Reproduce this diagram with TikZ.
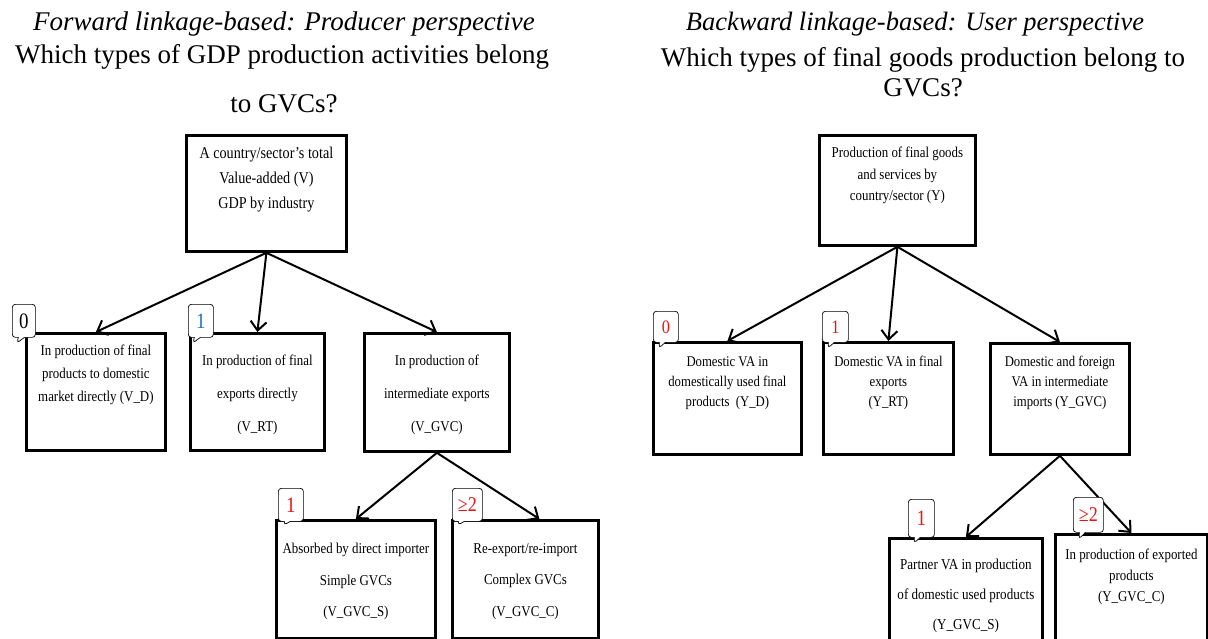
\documentclass[tikz,border=0pt]{standalone}
\usepackage{fontspec}
\setmainfont{Liberation Serif}
\newfontfamily\narrowfont[FakeStretch=0.86]{Liberation Serif}
\usetikzlibrary{positioning,shapes.callouts,arrows.meta}
\definecolor{badgered}{RGB}{235,20,20}
\definecolor{badgeblue}{RGB}{30,115,200}
\tikzset{
  box/.style={draw, line width=2.8pt, anchor=north west, inner sep=0pt},
  boxtext/.style 2 args={anchor=north, align=center, inner sep=0pt,
    font=\narrowfont\fontsize{#1}{#2}\selectfont},
  badge/.style={rectangle callout, draw, fill=white, line width=0.7pt,
    rounded corners=3pt, anchor=north west, minimum width=25pt,
    minimum height=33pt, inner sep=0pt, callout pointer width=6pt,
    text depth=-3pt, font=\narrowfont\fontsize{22}{22}\selectfont},
  link/.style={->, line width=2pt},
}
\begin{document}
\begin{tikzpicture}[x=1pt,y=-1pt,>={Straight Barb[length=9pt,width=16pt,line width=2pt]}]
\clip (0,0) rectangle (1208,639);
% titles
\node[font=\itshape\fontsize{27}{27}\selectfont] (Ltitle) at (284,24) {Forward linkage-based: Producer perspective};
\node[font=\fontsize{27}{27}\selectfont] (Lq) at (282,57) {Which types of GDP production activities belong};
\node[font=\fontsize{27}{27}\selectfont] (Lq2) at (284,104) {to GVCs?};
\node[font=\itshape\fontsize{26.5}{26.5}\selectfont] (Rtitle) at (915,24) {Backward linkage-based: User perspective};
\node[font=\fontsize{27}{30}\selectfont, align=center] (Rq) at (923,72) {Which types of final goods production belong to\\GVCs?};

% forward linkage boxes
\node[box, minimum width=160pt, minimum height=116pt] (Lroot) at (185,134) {};
\node[box, minimum width=139pt, minimum height=117pt] (L0) at (25,332) {};
\node[box, minimum width=134pt, minimum height=117pt] (L1) at (189,332) {};
\node[box, minimum width=145pt, minimum height=118pt] (L2) at (363,332) {};
\node[box, minimum width=159pt, minimum height=118pt] (L3) at (275,519) {};
\node[box, minimum width=146pt, minimum height=118pt] (L4) at (451,519) {};

\node[boxtext={16.5}{25}, below=13pt of Lroot.north] (LrootTxt) {A country/sector’s total\\Value-added (V)\\GDP by industry};
\node[boxtext={15}{23}, below=13pt of L0.north] (L0Txt) {In production of final\\products to domestic\\market directly (V\_D)};
\node[boxtext={15}{33}, below=23pt of L1.north] (L1Txt) {In production of final\\exports directly\\(V\_RT)};
\node[boxtext={15}{33}, below=23pt of L2.north] (L2Txt) {In production of\\intermediate exports\\(V\_GVC)};
\node[boxtext={15}{31.5}, below=24pt of L3.north] (L3Txt) {Absorbed by direct importer\\Simple GVCs\\(V\_GVC\_S)};
\node[boxtext={15}{31.5}, below=24pt of L4.north] (L4Txt) {Re-export/re-import\\Complex GVCs\\(V\_GVC\_C)};

\draw[link] (Lroot.south) -- (L0.north);
\draw[link] (Lroot.south) -- (L1.north);
\draw[link] (Lroot.south) -- (L2.north);
\draw[link] (L2.south) -- (L3.north);
\draw[link] (L2.south) -- ([xshift=14pt]L4.north);

\node[badge, minimum width=23pt, callout absolute pointer={(17,343)}] (bL0) at (12,304) {0};
\node[badge, text=badgeblue, callout absolute pointer={(193,343)}] (bL1) at (188,304) {1};
\node[badge, text=badgered, callout absolute pointer={(284,525)}] (bL3) at (278,488) {1};
\node[badge, text=badgered, minimum width=30pt, font=\narrowfont\fontsize{21}{21}\selectfont, callout absolute pointer={(458,525)}] (bL4) at (452,488) {≥2};

% backward linkage boxes
\node[box, minimum width=156pt, minimum height=110pt] (Rroot) at (818,134) {};
\node[box, minimum width=148pt, minimum height=112pt] (R0) at (652,341) {};
\node[box, minimum width=130pt, minimum height=112pt] (R1) at (822,341) {};
\node[box, minimum width=139pt, minimum height=111pt] (R2) at (989,342) {};
\node[box, minimum width=153pt, minimum height=130pt] (R3) at (888,537) {};
\node[box, minimum width=152pt, minimum height=130pt] (R4) at (1054,533) {};

\node[boxtext={15}{21.5}, below=13pt of Rroot.north] (RrootTxt) {Production of final goods\\and services by\\country/sector (Y)};
\node[boxtext={14.8}{20}, below=15pt of R0.north] (R0Txt) {Domestic VA in\\domestically used final\\products\ \ (Y\_D)};
\node[boxtext={14.8}{20}, below=15pt of R1.north] (R1Txt) {Domestic VA in final\\exports\\(Y\_RT)};
\node[boxtext={14.8}{20}, below=14pt of R2.north] (R2Txt) {Domestic and foreign\\VA in intermediate\\imports (Y\_GVC)};
\node[boxtext={15.2}{30}, below=22pt of R3.north] (R3Txt) {Partner VA in production\\of domestic used products\\(Y\_GVC\_S)};
\node[boxtext={15}{21}, below=16pt of R4.north] (R4Txt) {In production of exported\\products\\(Y\_GVC\_C)};

\draw[link] (Rroot.south) -- (R0.north);
\draw[link] (Rroot.south) -- (R1.north);
\draw[link] (Rroot.south) -- (R2.north);
\draw[link] (R2.south) -- (R3.north);
\draw[link] (R2.south) -- (R4.north);

\node[badge, text=badgered, minimum height=31pt, font=\narrowfont\fontsize{19}{19}\selectfont, callout absolute pointer={(659,348)}] (bR0) at (653,311) {0};
\node[badge, text=badgered, minimum height=31pt, minimum width=26pt, font=\narrowfont\fontsize{19}{19}\selectfont, callout absolute pointer={(828,348)}] (bR1) at (822,311) {1};
\node[badge, text=badgered, minimum height=38pt, minimum width=26pt, callout absolute pointer={(914,543)}] (bR3) at (908,499) {1};
\node[badge, text=badgered, minimum height=35pt, minimum width=30pt, font=\narrowfont\fontsize{21}{21}\selectfont, callout absolute pointer={(1079,539)}] (bR4) at (1073,497) {≥2};
\end{tikzpicture}
\end{document}
